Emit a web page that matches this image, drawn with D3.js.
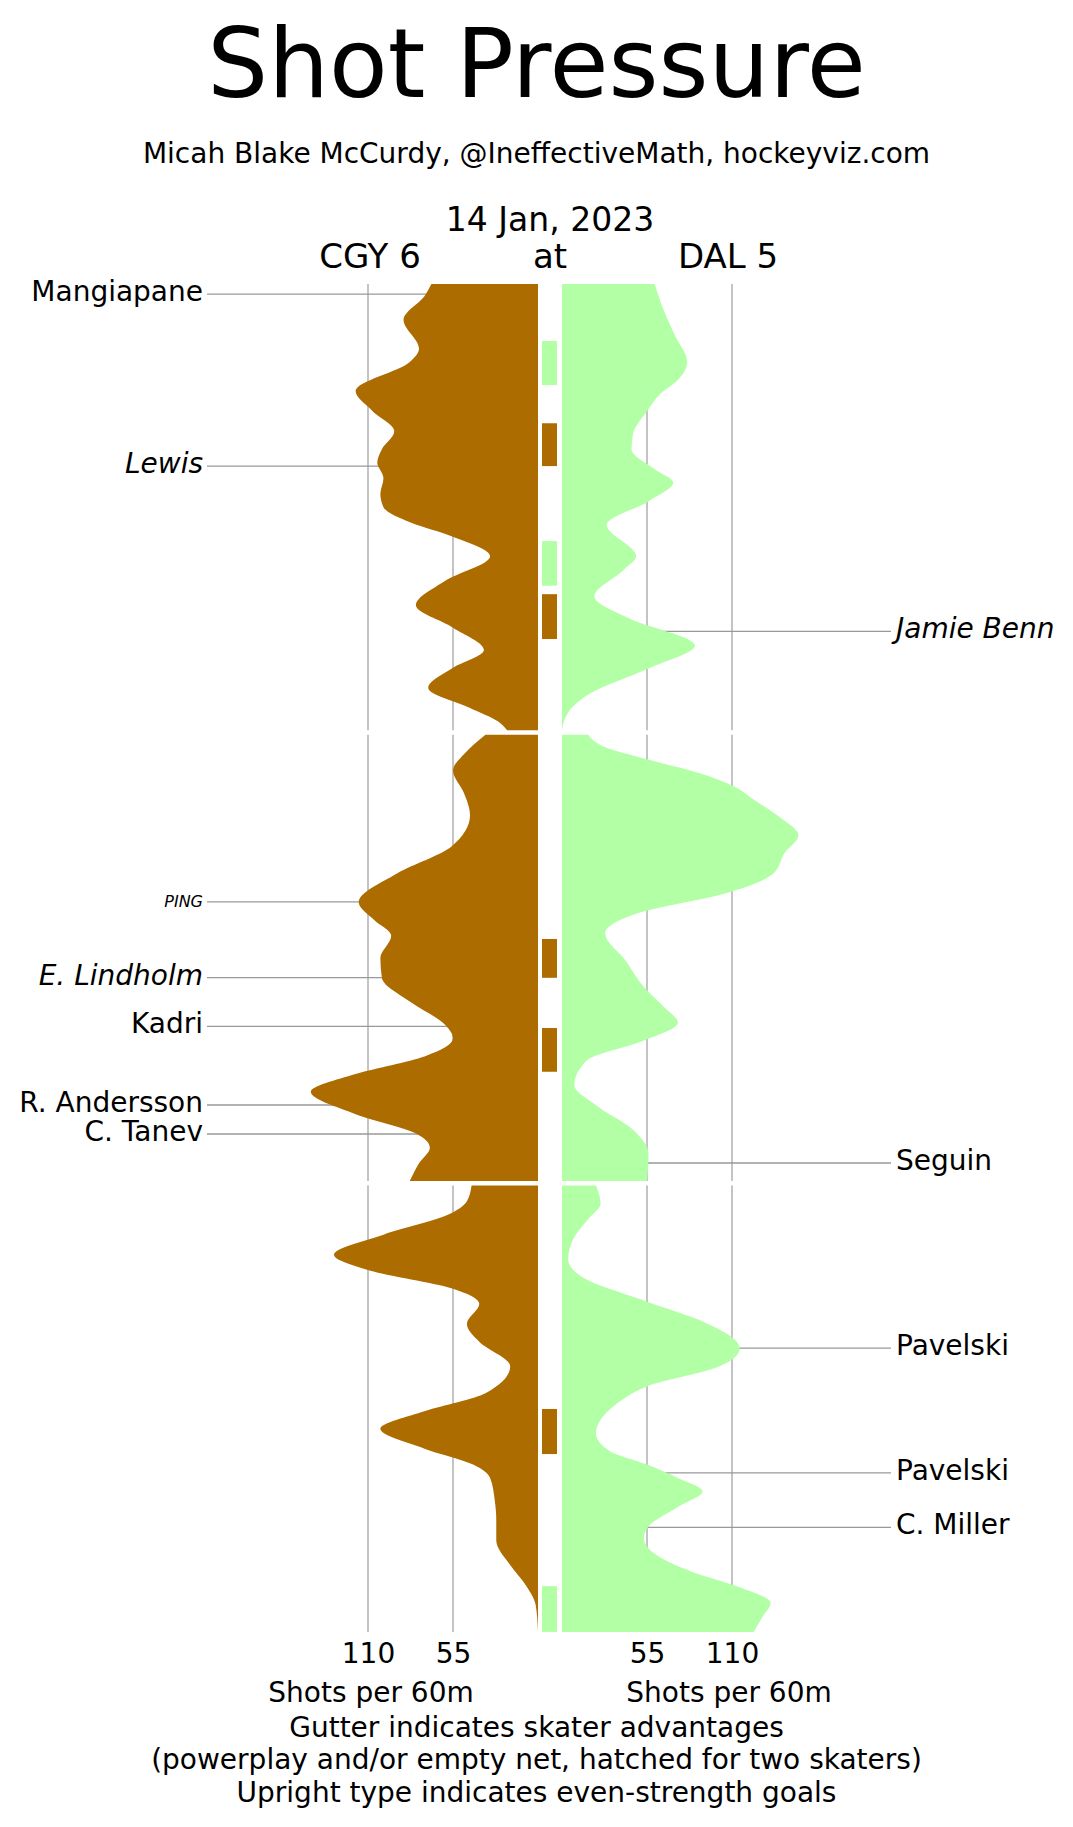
<!DOCTYPE html>
<html>
<head>
<meta charset="utf-8">
<script src="https://cdn.jsdelivr.net/npm/d3@7"></script>
<style>
  html, body { margin: 0; padding: 0; background: #fff; }
  svg { display: block; font-family: "DejaVu Sans", sans-serif; }
</style>
</head>
<body>
<svg id="chart" width="1073" height="1827"></svg>
<script>
// ---------------- DATA ----------------
const title = "Shot Pressure";
const subtitle = "Micah Blake McCurdy, @IneffectiveMath, hockeyviz.com";
const gameDate = "14 Jan, 2023";
const teams = ["CGY 6", "at", "DAL 5"];
const tickValues = [55, 110];
const axisTitle = "Shots per 60m";
const footerLines = [
  "Gutter indicates skater advantages",
  "(powerplay and/or empty net, hatched for two skaters)",
  "Upright type indicates even-strength goals"
];

// [minute within period, shots per 60]
const cgyP1 = [[0,69],[0.5,73],[1.6,87],[2.9,77],[3.5,83],[4.8,118],[5.7,107],[6.6,93],[7.4,101],[8.0,104],[8.7,100],[9.4,102],[10.0,100],[10.7,82],[11.3,56],[12.2,31],[13.3,60],[14.4,79],[15.4,55],[16.4,35],[17.2,55],[18.1,71],[19.0,44],[19.6,26],[20,20]];
const cgyP2 = [[0,34],[0.8,47],[1.6,55],[2.6,48],[3.6,44],[5.0,56],[6.2,91],[7.5,116],[8.3,106],[9.0,95],[10.0,102],[10.9,101],[12.0,82],[13.0,60],[13.6,55],[14.4,73],[15.2,118],[16.0,147],[17.0,118],[17.9,78],[18.5,70],[19.2,77],[20,83]];
const cgyP3 = [[0,43],[0.7,46],[1.3,58],[2.2,100],[3.1,132],[3.8,109],[4.6,56],[5.3,38],[6.2,46],[7.0,38],[8.1,18],[9.3,34],[10.1,73],[10.9,102],[11.8,73],[12.5,42],[13.1,31],[14.1,28],[15.0,27],[15.9,27],[17.0,18],[17.9,8],[18.8,1.5],[20,0]];
const dalP1 = [[0,60],[0.85,64],[2.3,73],[3.5,81],[4.3,75],[4.9,64],[5.7,55],[6.7,46],[7.4,45],[8.3,60],[8.9,72],[9.7,57],[10.8,29],[12.2,48],[12.8,40],[14.0,21],[15.0,44],[16.2,86],[17.2,57],[18.4,17],[19.2,4],[20,0]];
const dalP2 = [[0,17],[0.5,26],[1.1,55],[1.7,88],[2.3,111],[2.9,124],[3.7,141],[4.5,153],[5.3,144],[6.2,137],[7.1,106],[8.0,49],[8.9,28],[10.1,41],[11.3,53],[12.2,66],[12.9,75],[13.7,53],[14.6,16],[15.7,8],[16.6,22],[17.7,46],[18.8,56],[20,55]];
const dalP3 = [[0,22],[0.8,25],[1.5,17],[2.3,8],[3.3,4],[4.1,13],[5.2,55],[6.0,88],[7.3,115],[8.1,102],[9.0,55],[9.8,35],[11.1,22],[11.9,31],[12.5,55],[13.1,75],[13.7,91],[14.4,75],[15.2,57],[15.8,53],[16.5,60],[17.3,84],[18.0,115],[18.7,135],[19.3,130],[20,124]];

// skater advantages: team, period, start minute, end minute
const gutterTeams   = ["DAL","CGY","DAL","CGY","CGY","CGY","CGY","DAL"];
const gutterPeriods = [1,1,1,1,2,2,3,3];
const gutterStarts  = [2.55,6.24,11.52,13.9,9.15,13.14,10.01,17.95];
const gutterEnds    = [4.53,8.16,13.52,15.91,10.89,15.1,12.03,20];

// goals
const goalNames   = ["Mangiapane","Lewis","Jamie Benn","PING","E. Lindholm","Kadri","R. Andersson","C. Tanev","Seguin","Pavelski","Pavelski","C. Miller"];
const goalTeams   = ["CGY","CGY","DAL","CGY","CGY","CGY","CGY","CGY","DAL","DAL","DAL","DAL"];
const goalPeriods = [1,1,1,2,2,2,2,2,2,3,3,3];
const goalMinutes = [0.45,8.16,15.57,7.49,10.88,13.07,16.59,17.89,19.19,7.28,12.87,15.32];
const goalItalic  = [false,true,true,true,true,false,false,false,false,false,false,false];
const goalSmall   = [false,false,false,true,false,false,false,false,false,false,false,false];

// ---------------- LAYOUT ----------------
const colors = { CGY: "#ad6c00", DAL: "#b3ffa6" };
const plotTop = 284, periodH = 446.3, periodGap = 4.5;
const centerL = 538, centerR = 562;
const gutterX0 = 542, gutterX1 = 557;

const svg = d3.select("#chart");
const xL = d3.scaleLinear().domain([0, 110]).range([centerL, 368]);
const xR = d3.scaleLinear().domain([0, 110]).range([centerR, 732]);
const periodY = p => d3.scaleLinear().domain([0, 20]).range([plotTop + (p-1)*(periodH+periodGap), plotTop + (p-1)*(periodH+periodGap) + periodH]);

// titles
svg.append("text").attr("x", 536.5).attr("y", 97).attr("text-anchor", "middle")
  .attr("font-size", 96).text(title);
svg.append("text").attr("x", 536.5).attr("y", 163).attr("text-anchor", "middle")
  .attr("font-size", 28).text(subtitle);
svg.append("text").attr("x", 550).attr("y", 231).attr("text-anchor", "middle")
  .attr("font-size", 33).text(gameDate);
const teamX = [xL(110) + 2, (centerL + centerR) / 2, xR(110) - 4];
teams.forEach((t, i) => {
  svg.append("text").attr("x", teamX[i]).attr("y", 268).attr("text-anchor", "middle")
    .attr("font-size", 34).text(t);
});

// gridlines per period
[1,2,3].forEach(p => {
  const y = periodY(p);
  tickValues.forEach(v => {
    [xL(v), xR(v)].forEach(x => {
      svg.append("line").attr("x1", x).attr("x2", x).attr("y1", y(0)).attr("y2", y(20))
        .attr("stroke", "#b0b0b0").attr("stroke-width", 1.5);
    });
  });
});

// goal label lines (drawn beneath areas)
const goalG = svg.append("g");
goalNames.forEach((name, i) => {
  const y = periodY(goalPeriods[i])(goalMinutes[i]);
  const left = goalTeams[i] === "CGY";
  goalG.append("line")
    .attr("x1", left ? 207 : centerR).attr("x2", left ? centerL : 891)
    .attr("y1", y).attr("y2", y)
    .attr("stroke", "#999").attr("stroke-width", 1.3);
  goalG.append("text")
    .attr("x", left ? 203 : 896).attr("y", y)
    .attr("dy", goalSmall[i] ? "0.3em" : "0.25em")
    .attr("text-anchor", left ? "end" : "start")
    .attr("font-size", goalSmall[i] ? 16 : 28)
    .attr("font-style", goalItalic[i] ? "italic" : "normal")
    .text(name);
});

// areas
const series = [
  { team: "CGY", p: 1, d: cgyP1 }, { team: "CGY", p: 2, d: cgyP2 }, { team: "CGY", p: 3, d: cgyP3 },
  { team: "DAL", p: 1, d: dalP1 }, { team: "DAL", p: 2, d: dalP2 }, { team: "DAL", p: 3, d: dalP3 }
];
series.forEach(s => {
  const y = periodY(s.p);
  const xs = s.team === "CGY" ? xL : xR;
  const area = d3.area()
    .y(d => y(d[0]))
    .x0(xs(0))
    .x1(d => xs(d[1]))
    .curve(d3.curveMonotoneY);
  svg.append("path").attr("d", area(s.d)).attr("fill", colors[s.team]);
});

// gutter bars
gutterTeams.forEach((t, i) => {
  const y = periodY(gutterPeriods[i]);
  svg.append("rect")
    .attr("x", gutterX0).attr("width", gutterX1 - gutterX0)
    .attr("y", y(gutterStarts[i])).attr("height", y(gutterEnds[i]) - y(gutterStarts[i]))
    .attr("fill", colors[t]);
});

// axes
const axisY = plotTop + 3*periodH + 2*periodGap;
[xL, xR].forEach(sc => {
  const g = svg.append("g").attr("transform", `translate(0,${axisY})`)
    .call(d3.axisBottom(sc).tickValues(tickValues).tickSize(0).tickPadding(11));
  g.select(".domain").remove();
  g.selectAll("text").attr("font-size", 28).attr("font-family", "DejaVu Sans").attr("fill", "#000");
});
[xL(110) + 3, xR(110) - 3].forEach(x => {
  svg.append("text").attr("x", x).attr("y", 1702).attr("text-anchor", "middle")
    .attr("font-size", 28).text(axisTitle);
});
footerLines.forEach((t, i) => {
  svg.append("text").attr("x", 536.5).attr("y", 1737 + i*32.3).attr("text-anchor", "middle")
    .attr("font-size", 28).text(t);
});
</script>
</body>
</html>
